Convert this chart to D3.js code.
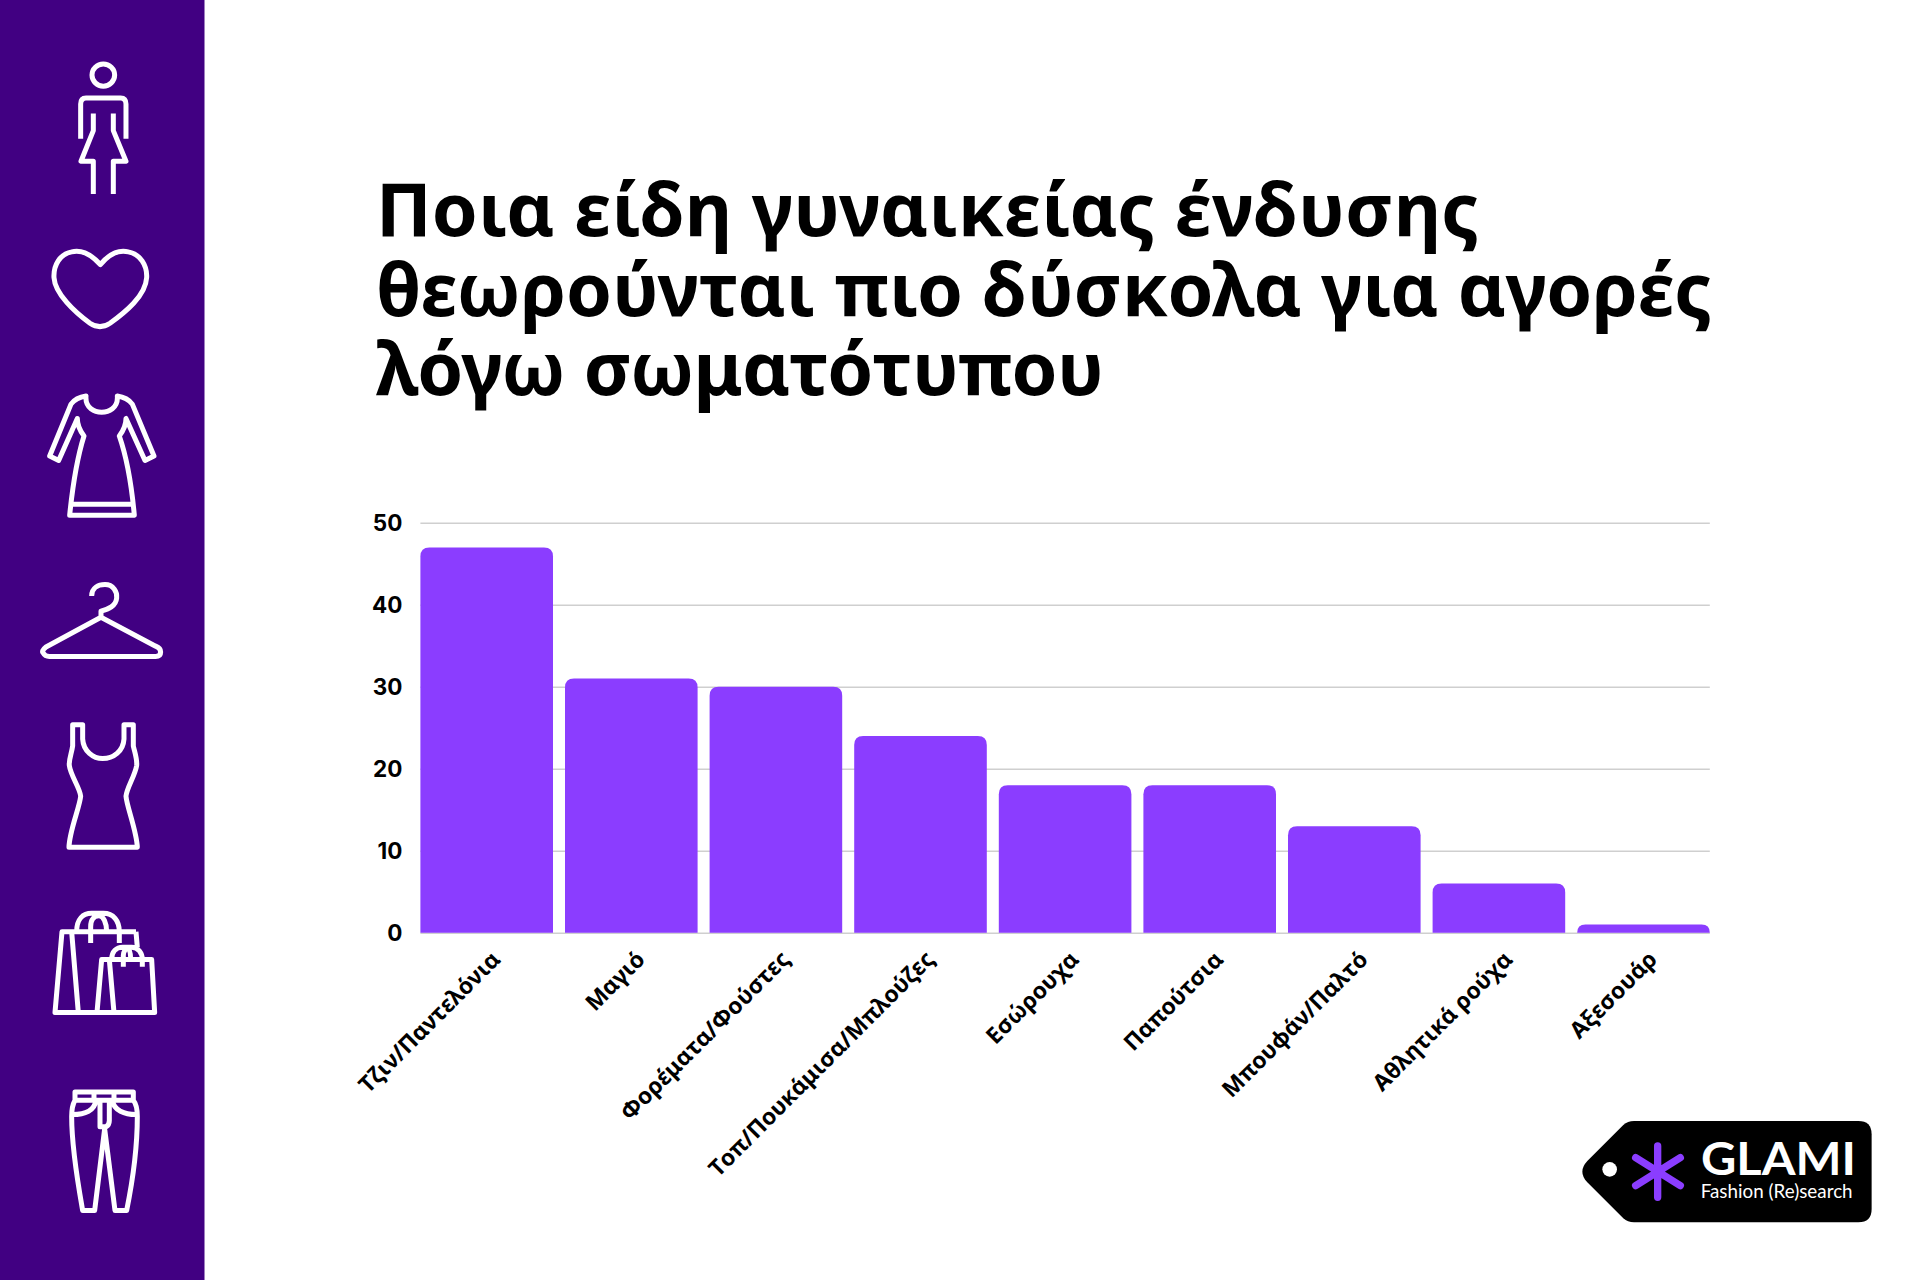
<!DOCTYPE html>
<html>
<head>
<meta charset="utf-8">
<script src="https://cdn.jsdelivr.net/npm/d3@7"></script>
<style>
body { margin: 0; background: #fff; }
svg { display: block; }
.icon path, .icon ellipse { fill: none; stroke: #fff; stroke-width: 5px; stroke-linejoin: round; vector-effect: non-scaling-stroke; }
</style>
</head>
<body>
<svg width="1920" height="1280"></svg>
<script>
var categories = ['Τζιν/Παντελόνια', 'Μαγιό', 'Φορέματα/Φούστες', 'Τοπ/Πουκάμισα/Μπλούζες', 'Εσώρουχα', 'Παπούτσια', 'Μπουφάν/Παλτό', 'Αθλητικά ρούχα', 'Αξεσουάρ'];
var values = [47, 31, 30, 24, 18, 18, 13, 6, 1];
var yTicks = [0, 10, 20, 30, 40, 50];
var titleLines = ['Ποια είδη γυναικείας ένδυσης', 'θεωρούνται πιο δύσκολα για αγορές', 'λόγω σωματότυπου'];

var svg = d3.select('svg');

svg.append('rect')
    .attr('width', 204.5)
    .attr('height', 1280)
    .attr('fill', '#410082');

// sidebar icons
var iconsTop = [
    'M242 340V255Q242 240 258 240H362Q378 240 378 255V340M280 278V320L243 395H280V475M340 278V320L378 395H340V475',
    'M301 648C270 620 240 612 215 617C180 622 160 650 162 680C165 720 225 765 270 792C290 803 310 803 330 792C375 765 437 725 440 680C442 650 420 622 385 617C360 612 330 620 301 648Z',
    'M258 970C255 1000 285 1010 305 1010C325 1010 355 1000 352 970C370 972 388 980 397 990L462 1117L435 1128L378 1025C378 1040 370 1055 358 1068C380 1120 395 1190 403 1262H209C218 1190 232 1120 252 1068C240 1055 232 1040 232 1025L176 1128L149 1117L213 990C222 980 240 972 258 970ZM215 1235H395',
    'M275 1460C275 1440 295 1432 315 1432C340 1432 352 1450 350 1465C348 1485 325 1492 303 1497V1512L138 1585Q123 1595 130 1600Q135 1608 148 1608H467Q482 1608 482 1597Q482 1588 467 1583L303 1512'
];
var iconsBottom = [
    'M218 210H248V245C250 275 280 293 308 293C340 293 370 275 372 245V210H400V262C405 280 412 295 410 310C405 335 380 365 378 385C380 410 410 470 412 510H207C208 470 240 410 242 385C240 365 212 335 208 310C206 295 215 280 218 262Z',
    'M408 717H186L165 915H464L455 785H305L291 915M215 717L235 915M328 785L342 915M408 717L412 755M230 717C230 685 250 672 275 672H310C340 672 358 690 358 717V745M272 745V705C272 685 285 678 297 678C310 678 320 695 320 717M335 785C335 765 350 755 368 755H395C415 755 427 770 427 785V803M370 803V775C370 765 378 758 382 758C390 760 392 775 392 785',
    'M225 1110H400V1130H225ZM282 1110V1130M342 1110V1130M225 1130C218 1140 215 1155 215 1170C215 1250 235 1340 248 1400H284L314 1200L345 1400H380C395 1340 412 1250 412 1170C412 1155 410 1140 400 1130M217 1165C255 1165 285 1155 287 1130M408 1165C375 1165 340 1155 338 1130M300 1130V1195H318Q328 1190 328 1180V1130'
];

var iconG = svg.append('g')
    .attr('class', 'icon')
    .attr('transform', 'scale(0.3333,0.4082)');
iconG.append('ellipse')
    .attr('cx', 310).attr('cy', 184).attr('rx', 34).attr('ry', 27);
iconG.selectAll('.top')
    .data(iconsTop)
    .enter()
    .append('path')
    .attr('class', 'top')
    .attr('d', function(d) { return d; });

var iconG2 = svg.append('g')
    .attr('class', 'icon')
    .attr('transform', 'translate(0,639) scale(0.3333,0.4082)');
iconG2.selectAll('.bottom')
    .data(iconsBottom)
    .enter()
    .append('path')
    .attr('class', 'bottom')
    .attr('d', function(d) { return d; });

// title, each line fitted to the width it has in the picture
var titleWidths = [1103, 1336, 728];
svg.append('g')
    .selectAll('text')
    .data(titleLines)
    .enter()
    .append('text')
    .attr('x', 376)
    .attr('y', function(d, i) { return 236 + i * 79.5; })
    .attr('textLength', function(d, i) { return titleWidths[i]; })
    .attr('lengthAdjust', 'spacing')
    .style('font-family', '"Noto Sans"')
    .style('font-weight', 700)
    .style('font-size', '73.7px')
    .style('fill', '#000')
    .text(function(d) { return d; });

// chart
var xScale = d3.scaleBand()
    .domain(categories)
    .range([420.4, 1709.8])
    .paddingInner(0.083);
var yScale = d3.scaleLinear()
    .domain([0, 50])
    .range([932.8, 522.8]);

var yAxis = d3.axisLeft(yScale)
    .tickValues(yTicks)
    .tickSize(-(1709.8 - 420.4))
    .tickPadding(18);
var yG = svg.append('g')
    .attr('transform', 'translate(420.4,0)')
    .call(yAxis);
yG.select('.domain').remove();
yG.selectAll('line').attr('stroke', '#cfcfcf').attr('stroke-width', 1.4);
yG.selectAll('text')
    .style('font-family', 'Inter')
    .style('font-weight', 700)
    .style('font-size', '22.5px')
    .style('fill', '#000');

function barPath(d, i) {
    var x0 = xScale(categories[i]);
    var x1 = x0 + xScale.bandwidth();
    var y0 = yScale(d);
    var y1 = yScale(0);
    var r = Math.min(9, y1 - y0);
    var p = d3.path();
    p.moveTo(x0, y1);
    p.lineTo(x0, y0 + r);
    p.quadraticCurveTo(x0, y0, x0 + r, y0);
    p.lineTo(x1 - r, y0);
    p.quadraticCurveTo(x1, y0, x1, y0 + r);
    p.lineTo(x1, y1);
    p.closePath();
    return p.toString();
}

svg.append('g')
    .selectAll('.bar')
    .data(values)
    .enter()
    .append('path')
    .attr('class', 'bar')
    .attr('d', barPath)
    .attr('fill', '#8b3dff');

var xAxis = d3.axisBottom(xScale)
    .tickSize(0);
var xG = svg.append('g')
    .attr('transform', 'translate(0,932.8)')
    .call(xAxis);
xG.select('.domain').remove();
xG.selectAll('text')
    .attr('text-anchor', 'end')
    .attr('x', 0)
    .attr('y', 0)
    .attr('dy', 0)
    .attr('transform', 'translate(15,28) rotate(-45)')
    .style('font-family', '"Noto Sans"')
    .style('font-kerning', 'none')
    .style('font-weight', 700)
    .style('font-size', '22.8px')
    .style('fill', '#000');

// logo tag
var logo = svg.append('g')
    .attr('transform', 'translate(1560,1099) scale(0.3333)');
logo.append('path')
    .attr('d', 'M190 78Q203 66 222 66H895Q935 66 935 106V330Q935 370 895 370H222Q203 370 190 358L82 250Q52 218 82 186Z')
    .attr('fill', '#000');
logo.append('circle')
    .attr('cx', 149).attr('cy', 211).attr('r', 22)
    .attr('fill', '#fff');
logo.append('path')
    .attr('d', 'M293 141V295M227 176L361 260M361 176L227 260')
    .attr('stroke', '#8b3dff')
    .attr('stroke-width', 22)
    .attr('stroke-linecap', 'round')
    .attr('fill', 'none');
logo.append('text')
    .attr('x', 423).attr('y', 228)
    .attr('textLength', 465)
    .attr('lengthAdjust', 'spacingAndGlyphs')
    .style('font-family', 'Lato')
    .style('font-weight', 700)
    .style('font-size', '136px')
    .style('fill', '#fff')
    .text('GLAMI');
logo.append('text')
    .attr('x', 422).attr('y', 297)
    .attr('textLength', 456)
    .attr('lengthAdjust', 'spacingAndGlyphs')
    .style('font-family', 'Lato')
    .style('font-size', '58px')
    .style('fill', '#fff')
    .text('Fashion (Re)search');
</script>
</body>
</html>
